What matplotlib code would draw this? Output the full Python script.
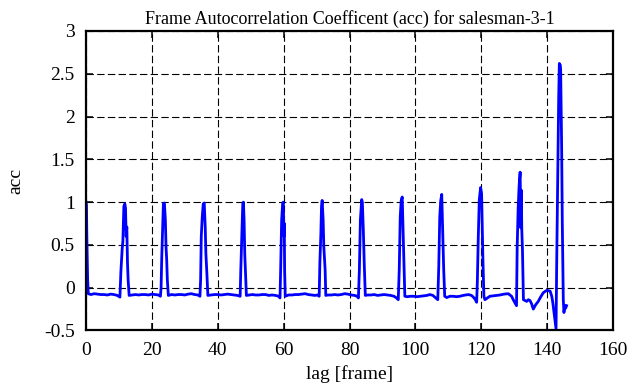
import matplotlib
matplotlib.use('Agg')
import matplotlib.pyplot as plt

# ── Data (lag in frames, acc value) ────────────────────────────────
lag = [
    0, 0.15, 0.25, 0.4, 0.5, 0.7, 1.5, 2.5, 3.5, 4.5, 5.5, 6.5, 7.5, 8.5, 9.5, 10.3,
    10.6, 11.0, 11.2, 11.5, 11.8, 12.0, 12.2, 12.4, 12.6, 12.8, 13.1, 14, 15, 16, 17, 18, 19, 20, 21, 22, 22.6,
    22.8, 23.0, 23.3, 23.5, 23.8, 24.1, 24.3, 24.5, 24.7, 25.0, 26, 27, 28, 29, 30, 31, 32, 33, 34, 34.6,
    34.8, 35.0, 35.3, 35.6, 35.9, 36.2, 36.4, 36.7, 37.0, 38, 39, 40, 41, 42, 43, 44, 45, 46, 46.8,
    47.0, 47.3, 47.6, 47.8, 48.0, 48.2, 48.4, 48.7, 49.5, 50.5, 51.5, 52.5, 53.5, 54.5, 55.5, 56.5, 57.5, 58.5, 58.9,
    59.1, 59.4, 59.7, 59.9, 60.1, 60.2, 60.3, 60.5, 61.5, 62.5, 63.5, 64.5, 65.5, 66.5, 67.5, 68.5, 69.5, 70.3, 70.8,
    71.0, 71.3, 71.5, 71.7, 72.0, 72.2, 72.6, 72.8, 73.5, 74.5, 75.5, 76.5, 77.5, 78.5, 79.5, 80.5, 81.5, 82.3, 82.7,
    83.0, 83.3, 83.7, 83.9, 84.2, 84.5, 84.8, 85.5, 86.5, 87.5, 88.5, 89.5, 90.5, 91.5, 92.5, 93.5, 94.3, 94.8,
    95.1, 95.4, 95.7, 96.0, 96.3, 96.5, 96.8, 97.5, 98.5, 99.5, 100.5, 101.5, 102.5, 103.5, 104.4, 105.3, 106.2, 106.8,
    107.1, 107.4, 107.7, 108.0, 108.3, 108.6, 108.9, 109.5, 110.5, 111.5, 112.5, 113.5, 114.5, 115.3, 116.1, 117.0, 117.6, 118.2, 118.6,
    118.8, 119.1, 119.4, 119.8, 120.1, 120.3, 120.5, 120.8, 121.1, 122.6, 123.6, 124.7, 125.7, 126.9, 128.2, 129.2, 129.7, 130.7,
    130.9, 131.2, 131.5, 131.8, 132.0, 132.15, 132.3, 132.5, 132.8, 133.3, 133.8, 134.3, 134.8, 135.3, 135.8, 136.5, 137.3,
    138.0, 138.8, 139.5, 140.0, 140.9, 141.4, 141.7, 142.2, 142.7,
    142.9, 143.2, 143.5, 143.7, 144.0, 144.1, 144.3, 144.4, 144.6, 144.9, 145.1, 145.4, 145.6, 145.9,
]
acc = [
    1.0, 0.97, 0.62, 0.3, 0.1, -0.07, -0.08, -0.07, -0.075, -0.08, -0.08, -0.085, -0.075, -0.08, -0.09, -0.11,
    0.19, 0.46, 0.54, 0.95, 0.98, 0.93, 0.6, 0.71, 0.29, 0.09, -0.09, -0.085, -0.08, -0.085, -0.08, -0.08, -0.085, -0.075, -0.08, -0.085, -0.1,
    0.0, 0.35, 0.75, 0.98, 0.99, 0.79, 0.48, 0.33, 0.09, -0.09, -0.08, -0.085, -0.08, -0.08, -0.085, -0.075, -0.07, -0.08, -0.085, -0.1,
    0.09, 0.6, 0.83, 0.98, 0.99, 0.71, 0.4, 0.17, -0.09, -0.085, -0.08, -0.08, -0.085, -0.08, -0.075, -0.08, -0.085, -0.09, -0.1,
    0.21, 0.6, 0.98, 1.0, 0.79, 0.4, 0.21, -0.09, -0.085, -0.08, -0.085, -0.085, -0.08, -0.08, -0.09, -0.085, -0.09, -0.1, -0.12,
    0.21, 0.79, 0.98, 1.0, 0.6, 0.75, 0.21, -0.1, -0.085, -0.085, -0.08, -0.08, -0.075, -0.07, -0.08, -0.085, -0.09, -0.085, -0.1,
    0.29, 0.62, 0.95, 1.02, 0.79, 0.48, 0.21, -0.09, -0.085, -0.085, -0.08, -0.085, -0.08, -0.07, -0.075, -0.085, -0.09, -0.1, -0.12,
    0.21, 0.79, 1.03, 1.0, 0.67, 0.25, -0.09, -0.085, -0.085, -0.08, -0.09, -0.085, -0.08, -0.085, -0.09, -0.1, -0.12, -0.14,
    0.21, 0.83, 1.02, 1.06, 0.6, 0.33, -0.1, -0.105, -0.1, -0.1, -0.105, -0.1, -0.095, -0.09, -0.08, -0.09, -0.12, -0.14,
    0.25, 0.83, 1.02, 1.09, 0.67, 0.21, -0.1, -0.115, -0.1, -0.1, -0.105, -0.1, -0.09, -0.085, -0.08, -0.09, -0.11, -0.14, -0.17,
    0.06, 0.6, 1.03, 1.17, 1.1, 0.72, 0.33, -0.1, -0.14, -0.10, -0.095, -0.09, -0.085, -0.075, -0.07, -0.1, -0.14, -0.21,
    0.47, 0.93, 1.2, 1.35, 0.7, 1.14, 0.68, 0.45, -0.14, -0.15, -0.16, -0.14, -0.15, -0.19, -0.25, -0.2, -0.16,
    -0.11, -0.06, -0.04, -0.03, -0.04, -0.1, -0.17, -0.33, -0.48,
    0.29, 1.26, 2.21, 2.62, 2.6, 2.54, 1.9, 1.65, 0.76, -0.14, -0.29, -0.21, -0.24, -0.21,
]

x_ticks = [0, 20, 40, 60, 80, 100, 120, 140, 160]
y_ticks = [-0.5, 0, 0.5, 1, 1.5, 2, 2.5, 3]
y_tick_labels = ['-0.5', '0', '0.5', '1', '1.5', '2', '2.5', '3']

# ── Style ──────────────────────────────────────────────────────────
plt.rcParams['font.family'] = ['Liberation Serif', 'DejaVu Serif']
plt.rcParams['lines.scale_dashes'] = False

fig = plt.figure(figsize=(6.35, 3.87), dpi=100)
ax = fig.add_axes([0.1354, 0.146, 0.83, 0.774])

ax.plot(lag, acc, color='#0000ff', linewidth=2.0, zorder=3)

ax.set_xlim(0, 160)
ax.set_ylim(-0.5, 3)
ax.set_xticks(x_ticks)
ax.set_yticks(y_ticks)
ax.set_yticklabels(y_tick_labels)

ax.grid(True, color='black', linewidth=0.8, linestyle=(0, (5.3, 2.4)), zorder=1)
ax.tick_params(direction='in', length=5, width=1.1, top=True, right=True,
               labelsize=14, pad=8, colors='black')
for s in ax.spines.values():
    s.set_linewidth(1.6)
    s.set_zorder(4)

ax.set_title('Frame Autocorrelation Coefficent (acc) for salesman-3-1',
             fontsize=13, pad=5)
ax.set_xlabel('lag [frame]', fontsize=14, labelpad=5)
ax.set_ylabel('acc', fontsize=14, labelpad=14)

fig.savefig('out.png', dpi=100)
